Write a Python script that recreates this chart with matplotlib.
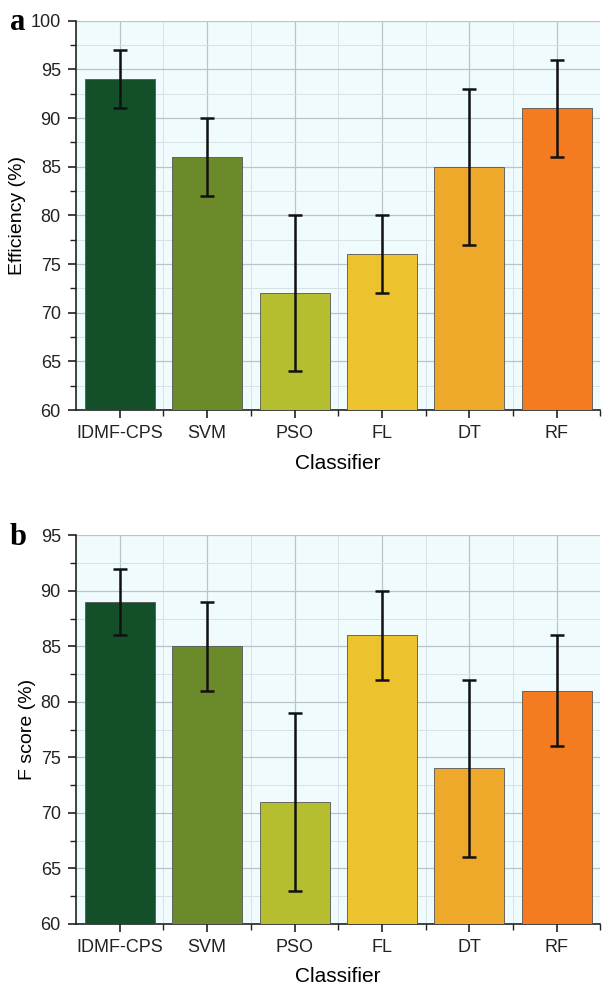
import matplotlib
matplotlib.use("Agg")
import matplotlib.pyplot as plt
from matplotlib.ticker import MultipleLocator
import numpy as np

plt.rcParams['font.family'] = ['Liberation Sans', 'DejaVu Sans']

classifiers = ["IDMF-CPS", "SVM", "PSO", "FL", "DT", "RF"]
efficiency = [94, 86, 72, 76, 85, 91]
efficiency_err = [3, 4, 8, 4, 8, 5]
fscore = [89, 85, 71, 86, 74, 81]
fscore_err = [3, 4, 8, 4, 8, 5]
colors = ["#13502A", "#6B8A2A", "#B5BE2E", "#ECC22E", "#EEA82A", "#F47B20"]

fig = plt.figure(figsize=(6.04, 9.86), dpi=100)
ax1 = fig.add_axes([0.126, 0.584, 0.868, 0.395])
ax2 = fig.add_axes([0.126, 0.063, 0.868, 0.394])

def draw(ax, vals, errs, ylabel, ylim, letter):
    x = np.arange(len(classifiers))
    ax.set_facecolor("#F0FBFD")
    ax.bar(x, vals, width=0.8, color=colors, edgecolor="#555555", linewidth=0.6, zorder=3)
    ax.errorbar(x, vals, yerr=errs, fmt="none", ecolor="#111111", elinewidth=1.8,
                capsize=5, capthick=1.8, zorder=4)
    ax.set_xlim(-0.5, 5.45)
    ax.set_ylim(*ylim)
    ax.set_xticks(x)
    ax.set_xticklabels(classifiers)
    ax.set_xticks(x + 0.5, minor=True)
    ax.yaxis.set_major_locator(MultipleLocator(5))
    ax.yaxis.set_minor_locator(MultipleLocator(2.5))
    ax.grid(which="major", color="#B8C4C8", linewidth=0.9, zorder=0)
    ax.grid(which="minor", color="#D6E2E6", linewidth=0.7, zorder=0)
    ax.set_axisbelow(True)
    for s in ["top", "right"]:
        ax.spines[s].set_visible(False)
    for s in ["left", "bottom"]:
        ax.spines[s].set_color("#222222")
        ax.spines[s].set_linewidth(1.2)
    ax.tick_params(which="major", direction="out", length=6, width=1.2, labelsize=13,
                   colors="#222222", pad=5)
    ax.tick_params(which="minor", direction="out", length=4, width=1.0, colors="#222222")
    ax.set_xlabel("Classifier", fontsize=15, labelpad=8)
    ax.set_ylabel(ylabel, fontsize=14, labelpad=3)
    pos = ax.get_position()
    fig.text(10 / 604, pos.y1 - 0.002, letter, fontsize=22, fontweight="bold",
             family="Liberation Serif", va="center", ha="left")

draw(ax1, efficiency, efficiency_err, "Efficiency (%)", (60, 100), "a")
draw(ax2, fscore, fscore_err, "F score (%)", (60, 95), "b")

fig.savefig("out.png", dpi=100)
